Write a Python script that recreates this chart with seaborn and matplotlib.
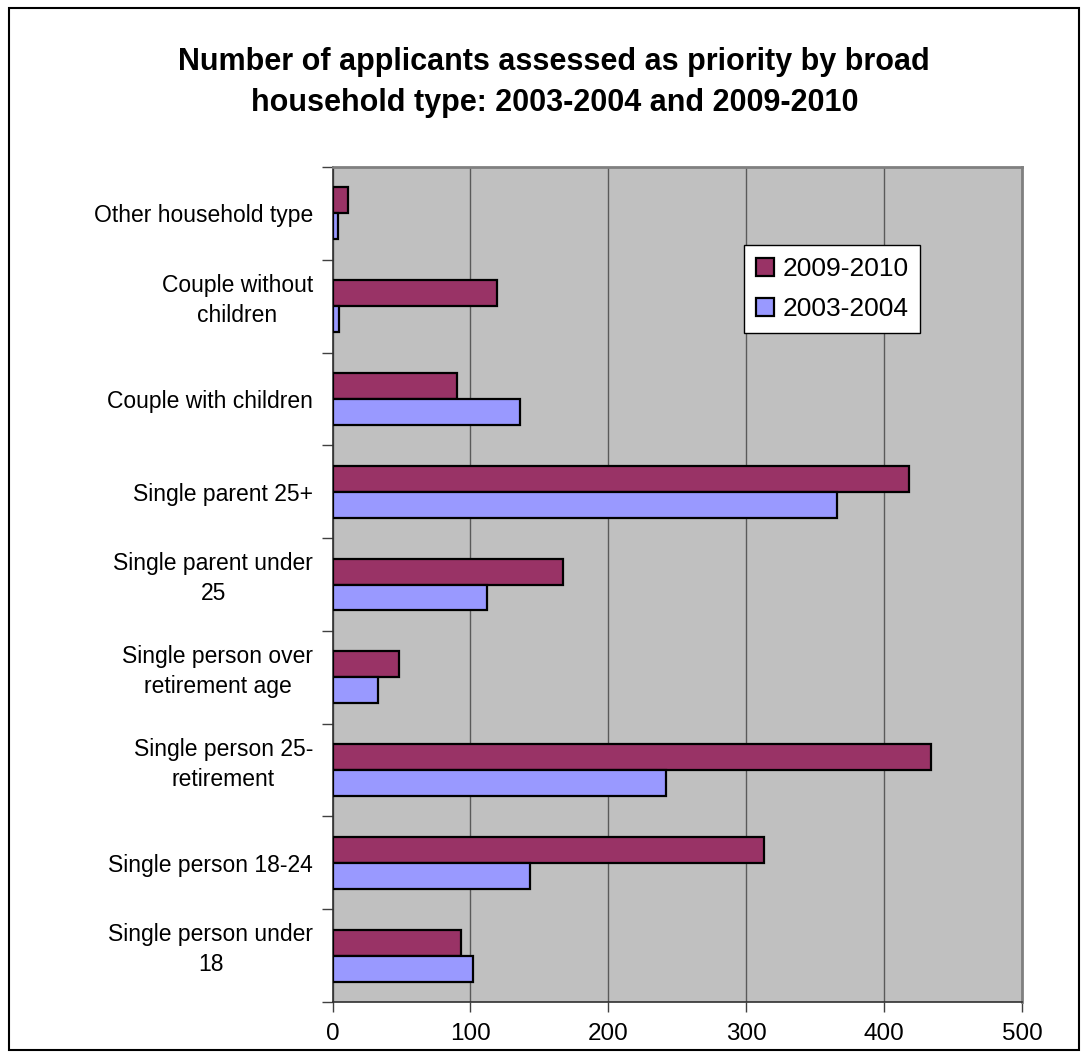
import matplotlib
matplotlib.use("Agg")
import matplotlib.pyplot as plt
from matplotlib.patches import Rectangle
from matplotlib.ticker import FixedLocator
from matplotlib.transforms import ScaledTranslation
import seaborn as sns
import pandas as pd

# Household types, listed top to bottom
categories = [
    "Other household type",
    "Couple without\nchildren",
    "Couple with children",
    "Single parent 25+",
    "Single parent under\n25",
    "Single person over\nretirement age",
    "Single person 25-\nretirement",
    "Single person 18-24",
    "Single person under\n18",
]
series_names = ["2009-2010", "2003-2004"]
values_2009_2010 = [11, 119, 90, 418, 167, 48, 434, 313, 93]
values_2003_2004 = [4, 5, 136, 366, 112, 33, 242, 143, 102]
x_ticks = [0, 100, 200, 300, 400, 500]

df = pd.DataFrame({
    "type": categories * 2,
    "period": [series_names[0]] * len(categories) + [series_names[1]] * len(categories),
    "count": values_2009_2010 + values_2003_2004,
})

sns.set_theme(style="white")
plt.rcParams["font.family"] = ["Liberation Sans", "DejaVu Sans"]
plt.rcParams["text.color"] = "black"
plt.rcParams["xtick.color"] = "black"
plt.rcParams["ytick.color"] = "black"

fig = plt.figure(figsize=(10.87, 10.57), dpi=100)
ax = fig.add_axes([0.3059, 0.052, 0.6343, 0.790])
ax.set_facecolor("#C0C0C0")

palette = {"2009-2010": "#993366", "2003-2004": "#9999FF"}
sns.barplot(
    data=df, y="type", x="count", hue="period", order=categories,
    hue_order=series_names, palette=palette, orient="h", width=0.56,
    edgecolor="black", linewidth=1.6, saturation=1, ax=ax, zorder=3,
)

ax.set_xlim(0, 500)
ax.set_xticks(x_ticks)
ax.set_xticklabels([str(t) for t in x_ticks], fontsize=17.5)
ax.xaxis.grid(True, color="#5a5a5a", linewidth=1.0, zorder=0)
ax.set_axisbelow(True)
ax.set_xlabel("")
ax.set_ylabel("")

ax.set_yticks(range(len(categories)))
ax.set_yticklabels(categories, fontsize=16.5, multialignment="center", linespacing=1.4)
ax.tick_params(axis="y", which="major", length=0, pad=14)
ax.yaxis.set_minor_locator(FixedLocator([i + 0.5 for i in range(-1, len(categories))]))
ax.tick_params(axis="y", which="minor", length=8, width=1.0, color="#404040", left=True)
ax.tick_params(axis="x", which="major", length=7, width=1.0, color="#404040",
               bottom=True, pad=8)

# two-line labels sit a little above the category centre
lift = ScaledTranslation(0, 0.12, fig.dpi_scale_trans)
for lab in ax.get_yticklabels():
    if "\n" in lab.get_text():
        lab.set_transform(lab.get_transform() + lift)

for side in ["left", "bottom"]:
    ax.spines[side].set_color("#303030")
    ax.spines[side].set_linewidth(1.2)
for side in ["top", "right"]:
    ax.spines[side].set_color("#808080")
    ax.spines[side].set_linewidth(2.0)

leg = ax.legend(
    loc="upper left", bbox_to_anchor=(0.597, 0.906), fontsize=19,
    frameon=True, fancybox=False, edgecolor="black", facecolor="white",
    framealpha=1, handlelength=0.7, handleheight=0.7, handletextpad=0.3,
    borderpad=0.45, labelspacing=0.6, borderaxespad=0,
)
leg.get_frame().set_linewidth(1.0)

fig.text(0.51, 0.922,
         "Number of applicants assessed as priority by broad\nhousehold type: 2003-2004 and 2009-2010",
         ha="center", va="center", fontsize=22, fontweight="bold", linespacing=1.45)

fig.patches.append(Rectangle((0.008, 0.007), 0.985, 0.985, transform=fig.transFigure,
                             fill=False, edgecolor="black", linewidth=1.5))

fig.savefig("out.png", dpi=100, facecolor="white")
